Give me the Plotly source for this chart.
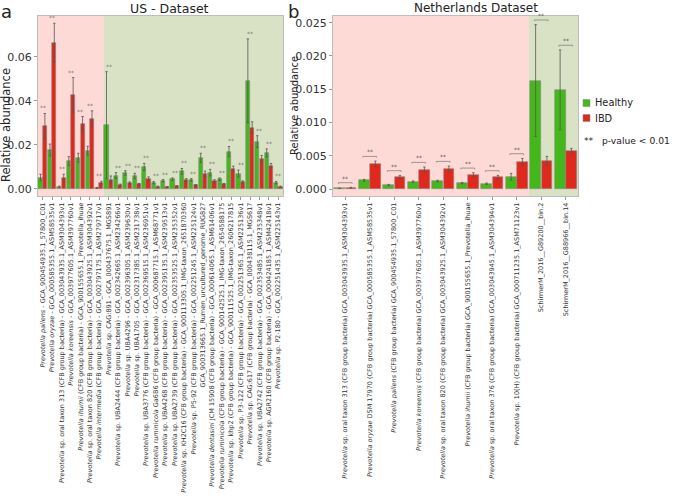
import plotly.graph_objects as go

# ---------------- data ----------------
us_labels = [
    "<i>Prevotella pallens</i> - GCA_900454935.1_57800_C01",
    "<i>Prevotella oryzae</i> - GCA_000585355.1_ASM58535v1",
    "<i>Prevotella</i> sp. oral taxon 313 (CFB group bacteria) - GCA_003043935.1_ASM304393v1",
    "<i>Prevotella koreensis</i> - GCA_003977605.1_ASM397760v1",
    "<i>Prevotella ihumii</i> (CFB group bacteria) - GCA_900155655.1_Prevotella_ihuae",
    "<i>Prevotella</i> sp. oral taxon 820 (CFB group bacteria) - GCA_003043925.1_ASM304392v1",
    "<i>Prevotella intermedia</i> (CFB group bacteria) - GCA_002797175.1_ASM279717v1",
    "<i>Prevotella</i> sp. CAG:891 - GCA_000437675.1_MGS891",
    "<i>Prevotella</i> sp. UBA2444 (CFB group bacteria) - GCA_002342665.1_ASM234266v1",
    "<i>Prevotella</i> sp. UBA4296 - GCA_002396305.1_ASM239630v1",
    "<i>Prevotella</i> sp. UBA1705 - GCA_002317385.1_ASM231738v1",
    "<i>Prevotella</i> sp. UBA3776 (CFB group bacteria) - GCA_002369515.1_ASM236951v1",
    "<i>Prevotella ruminicola</i> Ga6B6 (CFB group bacteria) - GCA_000687715.1_ASM68771v1",
    "<i>Prevotella</i> sp. UBA4268 (CFB group bacteria) - GCA_002395135.1_ASM239513v1",
    "<i>Prevotella</i> sp. UBA2739 (CFB group bacteria) - GCA_002353525.1_ASM235352v1",
    "<i>Prevotella</i> sp. KH2C16 (CFB group bacteria) - GCA_900113305.1_IMG-taxon_2651870360",
    "<i>Prevotella</i> sp. P5-92 (CFB group bacteria) - GCA_002251245.1_ASM225124v1",
    "GCA_900313665.1_Rumen_uncultured_genome_RUG827",
    "<i>Prevotella dentasini</i> JCM 15908 (CFB group bacteria) - GCA_000614065.1_ASM61406v1",
    "<i>Prevotella ruminicola</i> (CFB group bacteria) - GCA_900142525.1_IMG-taxon_2654588175",
    "<i>Prevotella</i> sp. khp2 (CFB group bacteria) - GCA_900111525.1_IMG-taxon_2606217815",
    "<i>Prevotella</i> sp. P3-122 (CFB group bacteria) - GCA_002251365.1_ASM225136v1",
    "<i>Prevotella</i> sp. CAG:617 (CFB group bacteria) - GCA_000438115.1_MGS617",
    "<i>Prevotella</i> sp. UBA2742 (CFB group bacteria) - GCA_002353485.1_ASM235348v1",
    "<i>Prevotella</i> sp. AGR2160 (CFB group bacteria) - GCA_000424185.1_ASM42418v1",
    "<i>Prevotella</i> sp. P2-180 - GCA_002251435.1_ASM225143v1",
]
us_healthy = [0.0052, 0.0177, 0.0010, 0.0127, 0.0142, 0.0174, 0.0005, 0.0290, 0.0061, 0.0073,
              0.0059, 0.0100, 0.0029, 0.0038, 0.0044, 0.0080, 0.0041, 0.0141, 0.0074, 0.0044,
              0.0170, 0.0070, 0.0492, 0.0215, 0.0164, 0.0029]
us_healthy_err = [0.0015, 0.0027, 0.0003, 0.0020, 0.0020, 0.0020, 0.0002, 0.0243, 0.0013, 0.0010,
                  0.0012, 0.0016, 0.0005, 0.0005, 0.0006, 0.0013, 0.0006, 0.0021, 0.0015, 0.0006,
                  0.0023, 0.0016, 0.0190, 0.0027, 0.0018, 0.0005]
us_ibd = [0.0286, 0.0665, 0.0052, 0.0426, 0.0294, 0.0320, 0.0029, 0.0041, 0.0018, 0.0027,
          0.0021, 0.0047, 0.0010, 0.0009, 0.0012, 0.0041, 0.0017, 0.0068, 0.0036, 0.0021,
          0.0092, 0.0032, 0.0279, 0.0138, 0.0106, 0.0010]
us_ibd_err = [0.0057, 0.0088, 0.0015, 0.0080, 0.0035, 0.0035, 0.0006, 0.0018, 0.0004, 0.0005,
              0.0004, 0.0008, 0.0003, 0.0002, 0.0003, 0.0006, 0.0003, 0.0013, 0.0006, 0.0004,
              0.0012, 0.0005, 0.0026, 0.0014, 0.0010, 0.0003]
us_n_ibd_enriched = 7  # first 7 taxa lie in the IBD-enriched (pink) region

nl_labels = [
    "<i>Prevotella</i> sp. oral taxon 313 (CFB group bacteria) GCA_003043935.1_ASM304393v1",
    "<i>Prevotella oryzae</i> DSM 17970 (CFB group bacteria) GCA_000585355.1_ASM58535v1",
    "<i>Prevotella pallens</i> (CFB group bacteria) GCA_900454935.1_57800_C01",
    "<i>Prevotella koreensis</i> (CFB group bacteria) GCA_003977605.1_ASM397760v1",
    "<i>Prevotella</i> sp. oral taxon 820 (CFB group bacteria) GCA_003043925.1_ASM304392v1",
    "<i>Prevotella ihumii</i> (CFB group bacteria) GCA_900155655.1_Prevotella_ihuae",
    "<i>Prevotella</i> sp. oral taxon 376 (CFB group bacteria) GCA_003043945.1_ASM304394v1",
    "<i>Prevotella</i> sp. 10(H) (CFB group bacteria) GCA_000711235.1_ASM71123v1",
    "SchirmerM_2016__G89200__bin.2",
    "SchirmerM_2016__G88966__bin.14",
]
nl_healthy = [0.0001, 0.0013, 0.0006, 0.0011, 0.0012, 0.0009, 0.0008, 0.00185, 0.0163, 0.0149]
nl_healthy_err = [0.00003, 0.00015, 0.0001, 0.00012, 0.00012, 0.0001, 0.0001, 0.0005, 0.0084, 0.0060]
nl_ibd = [0.0002, 0.0038, 0.00175, 0.0029, 0.0030, 0.00215, 0.00175, 0.0041, 0.0042, 0.0057]
nl_ibd_err = [0.00005, 0.0004, 0.0003, 0.0004, 0.00045, 0.0003, 0.0003, 0.0005, 0.0007, 0.0004]
nl_n_ibd_enriched = 8

legend_names = ["Healthy", "IBD"]

# ---------------- style ----------------
GREEN = "#44b81b"
RED = "#e0281d"
PINK_BG = "#fddad5"
GREEN_BG = "#d9e2c4"
FONT = "DejaVu Sans"
W, H = 675, 499
BW = 0.44
OFF = 0.23

def px_x(p):
    return p / W

def px_y(p):
    return 1 - p / H

fig = go.Figure()

def add_panel(xa, ya, labels, hv, he, iv, ie, n_pink):
    n = len(labels)
    idx = list(range(n))
    fig.add_trace(go.Bar(
        x=[i - OFF for i in idx], y=hv, width=BW, name=legend_names[0],
        marker=dict(color=GREEN, line=dict(color="#8a8a8a", width=0.6)),
        error_y=dict(type="data", array=he, color="#555555", thickness=0.8, width=1.2),
        xaxis=xa, yaxis=ya, showlegend=False))
    fig.add_trace(go.Bar(
        x=[i + OFF for i in idx], y=iv, width=BW, name=legend_names[1],
        marker=dict(color=RED, line=dict(color="#8a8a8a", width=0.6)),
        error_y=dict(type="data", array=ie, color="#555555", thickness=0.8, width=1.2),
        xaxis=xa, yaxis=ya, showlegend=False))
    fig.add_shape(type="rect", xref=xa, yref=ya + " domain", x0=-0.5, x1=n_pink - 0.5,
                  y0=0, y1=1, fillcolor=PINK_BG, line_width=0, layer="below")
    fig.add_shape(type="rect", xref=xa, yref=ya + " domain", x0=n_pink - 0.5, x1=n - 0.5,
                  y0=0, y1=1, fillcolor=GREEN_BG, line_width=0, layer="below")
    return idx

# left panel
idx_us = add_panel("x", "y", us_labels, us_healthy, us_healthy_err, us_ibd, us_ibd_err,
                   us_n_ibd_enriched)
for i in idx_us:
    top = max(us_healthy[i] + us_healthy_err[i], us_ibd[i] + us_ibd_err[i])
    fig.add_annotation(x=i, y=top, xref="x", yref="y", text="**", showarrow=False,
                       xanchor="center", yanchor="bottom", yshift=0,
                       font=dict(size=6, color="#777777", family=FONT))

# right panel
idx_nl = add_panel("x2", "y2", nl_labels, nl_healthy, nl_healthy_err, nl_ibd, nl_ibd_err,
                   nl_n_ibd_enriched)
for i in idx_nl:
    top = max(nl_healthy[i] + nl_healthy_err[i], nl_ibd[i] + nl_ibd_err[i]) + 0.0007
    x0, x1 = i - OFF - 0.05, i + OFF + 0.05
    fig.add_shape(type="path", xref="x2", yref="y2",
                  path=f"M {x0},{top - 0.00018} L {x0},{top} L {x1},{top} L {x1},{top - 0.00018}",
                  line=dict(color="#777777", width=0.7))
    fig.add_annotation(x=i, y=top, xref="x2", yref="y2", text="**", showarrow=False,
                       xanchor="center", yanchor="bottom", yshift=-1,
                       font=dict(size=6, color="#555555", family=FONT))

tick_font = dict(size=6.5, color="#333333", family=FONT)
axis_common = dict(showgrid=False, zeroline=False, automargin=False,
                   showline=True, linecolor="#bdbdbd", linewidth=1, mirror=True)

fig.update_layout(
    width=W, height=H,
    margin=dict(l=0, r=0, t=0, b=0),
    paper_bgcolor="white", plot_bgcolor="white",
    font=dict(family=FONT, color="#222222"),
    barmode="overlay",
    bargap=0,
    showlegend=False,
    xaxis=dict(domain=[px_x(38), px_x(283)], range=[-0.5, len(us_labels) - 0.5],
               tickmode="array", tickvals=idx_us, ticktext=us_labels, tickangle=-90,
               tickfont=tick_font, ticks="outside", ticklen=3, tickcolor="#999999",
               anchor="y", **axis_common),
    yaxis=dict(domain=[px_y(196), px_y(16)], range=[-0.0032, 0.0786],
               tickmode="array", tickvals=[0, 0.02, 0.04, 0.06],
               ticktext=["0.00", "0.02", "0.04", "0.06"],
               tickfont=dict(size=11, color="#333333", family=FONT),
               ticks="outside", ticklen=3, tickcolor="#999999", anchor="x", **axis_common),
    xaxis2=dict(domain=[px_x(333), px_x(578)], range=[-0.5, len(nl_labels) - 0.5],
                tickmode="array", tickvals=idx_nl, ticktext=nl_labels, tickangle=-90,
                tickfont=tick_font, ticks="outside", ticklen=3, tickcolor="#999999",
                anchor="y2", **axis_common),
    yaxis2=dict(domain=[px_y(196), px_y(16)], range=[-0.00105, 0.026],
                tickmode="array", tickvals=[0, 0.005, 0.01, 0.015, 0.02, 0.025],
                ticktext=["0.000", "0.005", "0.010", "0.015", "0.020", "0.025"],
                tickfont=dict(size=11, color="#333333", family=FONT),
                ticks="outside", ticklen=3, tickcolor="#999999", anchor="x2", **axis_common),
)

# manual legend (swatches + labels)
for k, (name, col) in enumerate(zip(legend_names, [GREEN, RED])):
    yc = 103 + 15 * k
    fig.add_shape(type="rect", xref="paper", yref="paper",
                  x0=px_x(583), x1=px_x(590), y0=px_y(yc + 3.5), y1=px_y(yc - 3.5),
                  fillcolor=col, line=dict(color="#8a8a8a", width=0.5))
    fig.add_annotation(x=px_x(593), y=px_y(yc), xref="paper", yref="paper", text=name,
                       xanchor="left", yanchor="middle", showarrow=False,
                       font=dict(size=9.8, family=FONT, color="#222222"))
fig.add_annotation(x=px_x(582), y=px_y(140), xref="paper", yref="paper",
                   text="**&nbsp;&nbsp;&nbsp;p-value &lt; 0.01", xanchor="left", yanchor="middle",
                   showarrow=False, font=dict(size=9.2, family=FONT, color="#222222"))

# titles & panel letters
fig.add_annotation(x=px_x(170), y=px_y(8), xref="paper", yref="paper", text="US - Dataset",
                   xanchor="center", yanchor="middle",
                   showarrow=False, font=dict(size=12.5, family=FONT, color="#222222"))
fig.add_annotation(x=px_x(476), y=px_y(8), xref="paper", yref="paper", text="Netherlands Dataset",
                   xanchor="center", yanchor="middle",
                   showarrow=False, font=dict(size=12, family=FONT, color="#222222"))
fig.add_annotation(x=px_x(-1), y=px_y(11), xref="paper", yref="paper", text="a",
                   xanchor="left", yanchor="middle",
                   showarrow=False, font=dict(size=18, family=FONT, color="#222222"))
fig.add_annotation(x=px_x(286), y=px_y(11), xref="paper", yref="paper", text="b",
                   xanchor="left", yanchor="middle",
                   showarrow=False, font=dict(size=18, family=FONT, color="#222222"))
fig.add_annotation(x=px_x(6), y=px_y(125), xref="paper", yref="paper", text="Relative abundance",
                   xanchor="center", yanchor="middle",
                   textangle=-90, showarrow=False, font=dict(size=11.5, family=FONT, color="#222222"))
fig.add_annotation(x=px_x(294), y=px_y(106), xref="paper", yref="paper", text="Relative abundance",
                   xanchor="center", yanchor="middle",
                   textangle=-90, showarrow=False, font=dict(size=10, family=FONT, color="#222222"))

fig.write_html("out.html", config={"displayModeBar": False},
               post_script="document.body.style.margin='0';")
